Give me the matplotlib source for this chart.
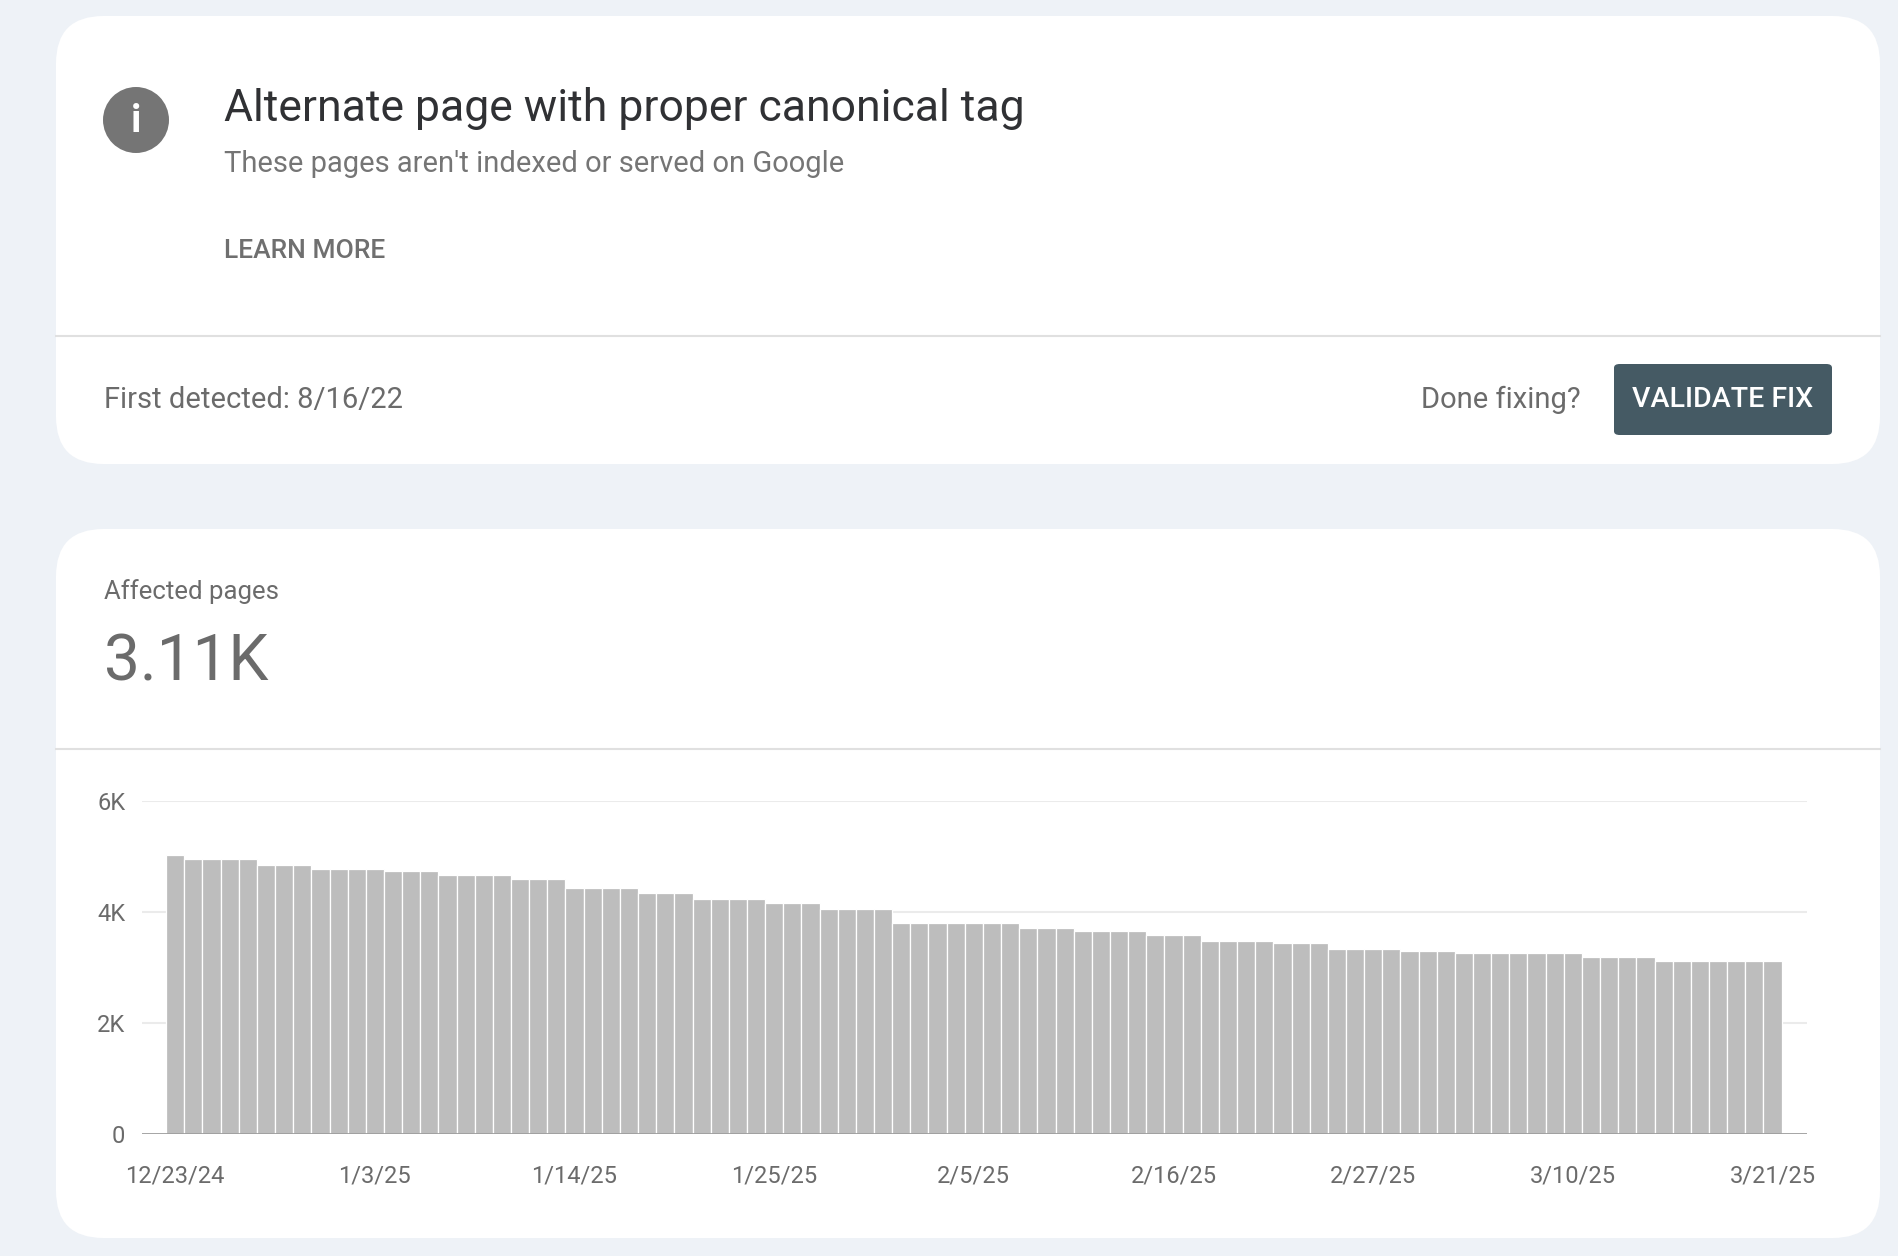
import matplotlib
matplotlib.use("Agg")
import matplotlib.pyplot as plt
from matplotlib.patches import FancyBboxPatch, Ellipse
import numpy as np

plt.rcParams['font.family'] = ['Roboto', 'DejaVu Sans']

# data: (value, number of consecutive days)
step_values = [5020, 4950, 4840, 4770, 4730, 4660, 4590, 4440, 4340, 4230, 4160, 4050,
               3800, 3720, 3650, 3580, 3470, 3435, 3330, 3290, 3255, 3185, 3120]
step_counts = [1, 4, 3, 4, 3, 4, 3, 4, 3, 4, 3, 4,
               7, 3, 4, 3, 4, 3, 4, 3, 7, 4, 7]
values = np.repeat(step_values, step_counts)
tick_labels = ['12/23/24', '1/3/25', '1/14/25', '1/25/25', '2/5/25', '2/16/25',
               '2/27/25', '3/10/25', '3/21/25']
y_ticks = [0, 2000, 4000, 6000]
y_tick_labels = ['0', '2K', '4K', '6K']

W, H = 1898, 1256
fig = plt.figure(figsize=(W/100, H/100), dpi=100)
fig.patch.set_facecolor('#eef2f7')

def fx(x): return x / W
def fy(y): return 1 - y / H

def card(x0, y0, x1, y1):
    p = FancyBboxPatch((fx(x0), fy(y1)), fx(x1-x0), (y1-y0)/H,
                       boxstyle="round,pad=0,rounding_size=0.025",
                       transform=fig.transFigure, facecolor='white', edgecolor='none',
                       mutation_aspect=W/H, zorder=-5)
    fig.add_artist(p)

def hline(y, x0, x1, c='#e0e0e0', lw=1.5):
    fig.add_artist(plt.Line2D([fx(x0), fx(x1)], [fy(y), fy(y)], color=c, lw=lw,
                              transform=fig.transFigure, zorder=-4))

card(56, 16, 1880, 464)
card(56, 529, 1880, 1238)
hline(336, 56, 1880)
hline(749, 56, 1880)

# info icon
fig.add_artist(Ellipse((fx(136), fy(120)), 66/W, 66/H, transform=fig.transFigure,
                       facecolor='#757575', edgecolor='none'))
fig.text(fx(136), fy(122), 'i', color='white', fontsize=28, fontweight='bold',
         ha='center', va='center')

fig.text(fx(224), fy(109), 'Alternate page with proper canonical tag', fontsize=32,
         color='#303134', va='center')
fig.text(fx(224), fy(164), "These pages aren't indexed or served on Google", fontsize=21,
         color='#757575', va='center')
fig.text(fx(224), fy(251), 'LEARN MORE', fontsize=19, color='#6f6f6f', va='center',
         fontweight='medium')
fig.text(fx(104), fy(400), 'First detected: 8/16/22', fontsize=21, color='#6b6b6b', va='center')
fig.text(fx(1581), fy(400), 'Done fixing?', fontsize=21, color='#6b6b6b', va='center', ha='right')

btn = FancyBboxPatch((fx(1614), fy(435)), fx(218), 71/H,
                     boxstyle="round,pad=0,rounding_size=0.003",
                     transform=fig.transFigure, facecolor='#455a64', edgecolor='none')
fig.add_artist(btn)
fig.text(fx(1723), fy(400), 'VALIDATE FIX', fontsize=20.5, color='white', va='center',
         ha='center', fontweight='medium')

fig.text(fx(104), fy(592), 'Affected pages', fontsize=18.5, color='#6b6b6b', va='center')
fig.text(fx(104), fy(662), '3.11K', fontsize=46, color='#6b6b6b', va='center')

# chart
ax = fig.add_axes([fx(142), fy(1134), fx(1807-142), (1134-801)/H])
ax.set_facecolor('none')
x = np.arange(len(values))
ax.bar(x, values, width=1.0, color='#bdbdbd', edgecolor='white', linewidth=0.9, zorder=3)
ax.set_xlim(-1.83, 89.9)
ax.set_ylim(0, 6000)
for yv in y_ticks[1:]:
    ax.axhline(yv, color='#ebebeb', lw=1.5, zorder=1)
ax.axhline(0, color='#9e9e9e', lw=1.3, zorder=4)
ax.set_yticks(y_ticks)
ax.set_yticklabels(y_tick_labels)
ax.set_xticks(np.arange(0, len(values), 11))
ax.set_xticklabels(tick_labels)
ax.tick_params(length=0, labelsize=17, labelcolor='#6b6b6b')
ax.tick_params(axis='x', pad=22)
ax.tick_params(axis='y', pad=12)
for s in ax.spines.values():
    s.set_visible(False)

fig.savefig('out.png', dpi=100, facecolor=fig.get_facecolor())
